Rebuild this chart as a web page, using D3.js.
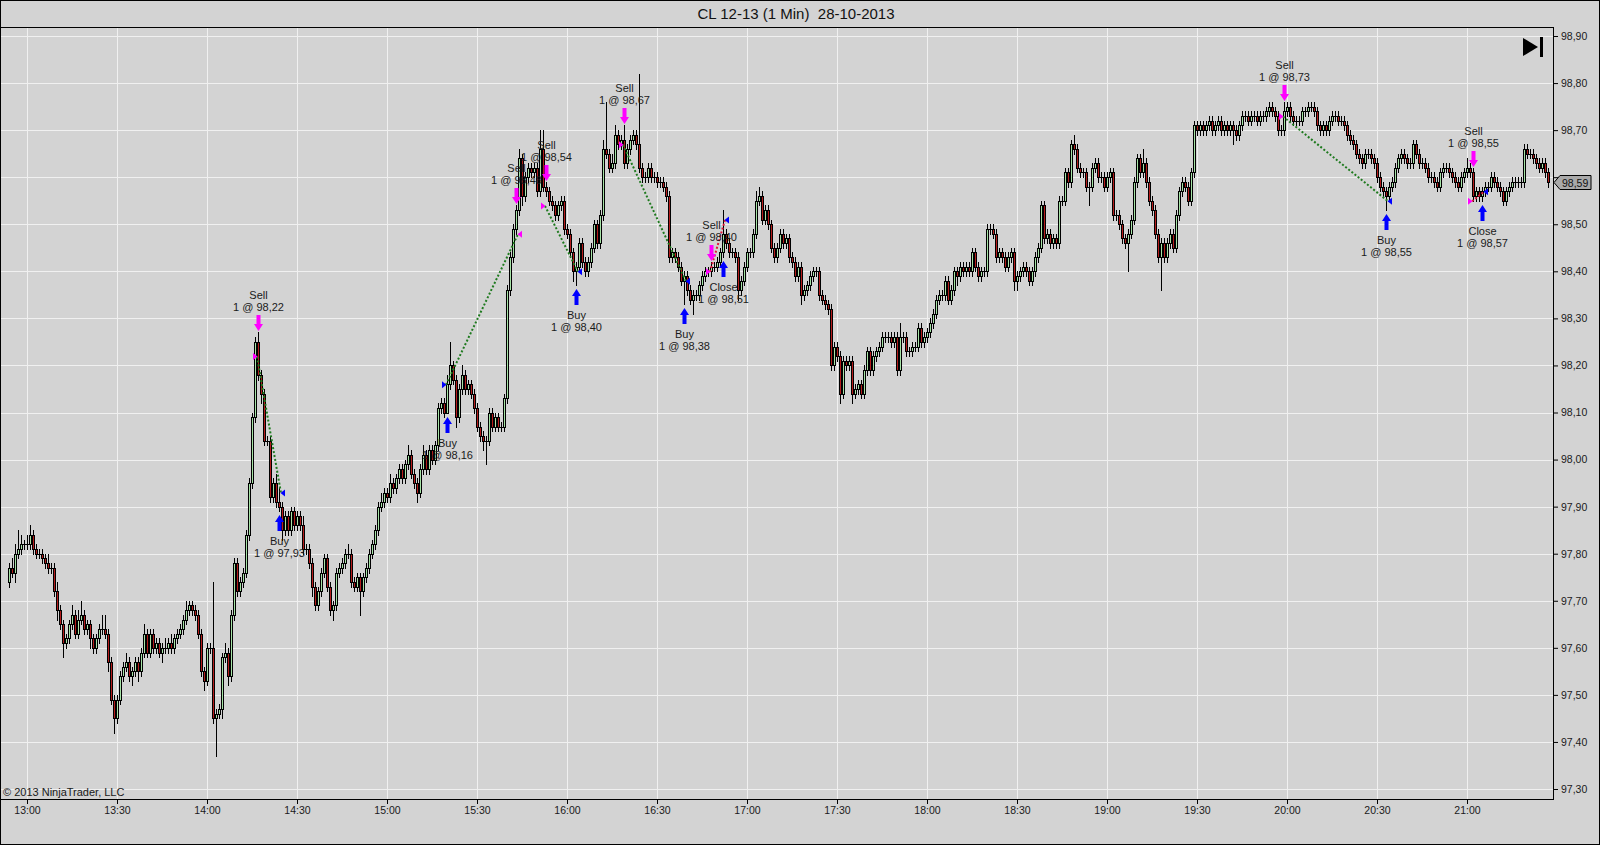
<!DOCTYPE html>
<html>
<head>
<meta charset="utf-8">
<script src="https://cdn.jsdelivr.net/npm/d3@7"></script>
<style>
  html, body { margin: 0; padding: 0; background: #d3d3d3; }
  svg { display: block; font-family: "Liberation Sans", Arial, sans-serif; }
</style>
</head>
<body>
<svg id="chart" width="1600" height="845"></svg>
<script>
// ========== Data ==========

const chartTitle = "CL 12-13 (1 Min)  28-10-2013";
const copyright = "\u00a9 2013 NinjaTrader, LLC";

// 1 minute bars from 12:54 to 21:27, prices in ticks (0.01) above 97.00
// each bar opens where the previous one closed
const firstBarTime = "12:54";
const basePrice = 97.00;
const firstOpen = 74;

const closes = [
  77,76,80,81,82,82,82,84,81,80,      // 12:54
  80,79,78,77,77,72,68,65,61,62,      // 13:04
  65,67,63,66,67,64,65,62,60,62,      // 13:14
  64,64,63,57,49,45,49,54,56,57,      // 13:24
  54,55,57,55,59,63,59,63,60,61,      // 13:34
  59,60,60,61,60,62,63,64,66,68,      // 13:44
  69,68,67,63,55,53,60,60,45,46,      // 13:54
  47,58,59,54,67,78,72,74,76,84,      // 14:04
  95,109,125,118,114,104,104,92,95,91,
  90,85,88,85,89,86,88,86,81,81,      // 14:24
  78,73,69,72,76,79,73,68,69,76,
  77,78,80,80,74,73,75,72,75,77,      // 14:44
  80,82,85,90,91,93,92,95,94,96,
  98,96,99,101,97,95,93,98,101,98,    // 15:04
  102,100,103,111,112,110,116,120,117,109,
  115,118,115,116,114,111,107,105,104,104,   // 15:24
  110,107,109,107,107,113,136,143,149,153,
  164,156,160,162,161,162,157,166,158,157,   // 15:44
  155,154,152,154,155,149,148,144,140,141,
  146,142,140,142,145,150,146,152,166,165,   // 16:04
  162,163,169,167,168,163,166,168,169,167,
  162,160,160,162,160,160,159,159,158,156,   // 16:24
  143,144,143,141,138,139,136,134,135,135,
  137,139,140,140,141,141,142,144,148,146,   // 16:44
  144,144,143,136,138,141,144,144,148,155,
  156,151,153,150,145,143,145,148,146,147,   // 17:04
  143,142,139,141,135,136,137,139,140,140,
  135,134,133,132,120,124,122,114,121,120,   // 17:24
  121,114,115,116,114,119,123,119,122,123,
  124,126,126,126,125,126,119,126,126,123,   // 17:44
  123,124,124,128,125,126,127,129,131,134,
  135,135,138,134,136,140,139,141,140,141,   // 18:04
  140,144,141,139,140,140,149,149,148,143,
  144,143,141,143,144,138,139,140,141,140,   // 18:24
  138,140,143,145,154,147,148,146,147,146,
  155,155,161,159,167,166,162,161,161,158,   // 18:44
  158,162,163,160,160,158,160,161,152,152,
  150,147,146,148,151,159,164,161,163,159,   // 19:04
  155,153,148,143,146,143,146,148,145,152,
  157,159,158,155,161,171,170,171,170,171,   // 19:24
  172,170,171,172,170,171,170,171,170,169,
  171,173,173,172,173,173,172,173,173,174,   // 19:44
  175,174,173,170,170,174,175,173,172,172,
  172,174,174,175,175,174,171,170,171,170,   // 20:04
  172,173,173,172,172,171,169,168,167,165,
  164,163,165,165,164,163,160,158,157,156,   // 20:24
  158,159,162,164,165,164,163,163,167,165,
  163,163,162,160,160,159,158,161,162,162,   // 20:44
  161,160,159,158,160,161,162,161,156,157,
  156,157,158,158,160,159,158,157,155,157,   // 21:04
  158,159,159,159,159,166,165,165,164,163,
  162,163,161,159
];

// wick lengths in ticks above the body top / below the body bottom
const upperWick = [
  1,2,2,4,2,1,2,2,1,1,  1,1,1,2,1,1,2,1,1,1,  1,2,1,2,3,1,1,1,1,1,  1,3,3,1,1,1,1,1,1,2,
  1,1,1,1,1,2,1,1,1,1,  1,1,2,1,2,1,1,1,1,2,  1,1,1,1,1,1,1,1,14,1, 1,1,2,1,1,1,1,1,1,1,
  1,1,1,2,1,1,1,1,1,2,  3,1,1,1,1,1,1,1,2,1,  1,1,1,1,1,1,1,1,1,1,  1,1,1,2,1,1,1,1,1,1,
  1,1,1,1,2,1,1,2,1,1,  1,1,1,2,1,1,1,1,2,1,  1,1,1,1,1,1,2,5,1,1,  1,2,1,1,1,1,1,1,1,1,
  1,1,1,1,1,1,1,1,1,1,  2,1,1,1,1,1,1,4,4,1,  1,1,1,1,1,1,1,1,1,1,  1,1,1,1,1,1,1,1,2,10,
  1,2,2,1,1,3,1,1,1,1,  15,1,1,1,1,1,1,1,1,1, 1,1,1,1,1,1,1,1,1,1,  1,1,1,1,1,1,1,1,5,1,
  1,1,1,1,1,1,1,1,1,2,  2,1,1,1,1,1,1,1,1,1,  1,1,1,1,1,1,1,1,1,1,  1,1,1,1,1,1,1,1,1,1,
  1,1,1,1,1,1,1,1,1,1,  1,1,1,1,1,1,1,3,1,1,  1,1,1,1,1,1,1,1,1,1,  1,1,1,1,1,1,1,1,1,1,
  1,1,1,1,1,1,1,1,1,1,  1,1,1,1,1,1,1,1,1,1,  1,1,1,1,1,1,1,1,1,1,  1,1,1,1,1,2,1,1,1,1,
  1,1,1,1,1,1,1,1,1,1,  1,1,1,1,1,1,1,1,3,1,  1,1,1,1,1,1,1,1,1,1,  1,1,1,1,1,1,1,1,1,1,
  1,1,1,1,1,1,1,1,1,1,  1,1,1,1,1,1,1,1,1,1,  1,1,1,1,1,2,1,1,1,1,  1,1,1,1,1,1,1,1,1,1,
  1,1,1,1,1,1,1,1,1,1,  1,1,1,1,1,1,1,1,1,1,  1,1,1,1,1,1,1,1,1,1,  1,1,1,1,1,1,1,1,1,1,
  1,1,1,1,1,1,2,1,1,1,  1,1,1,1,1,1,1,1,1,1,  1,1,1,1,1,1,1,1,1,1,  1,1,1,1
];
const lowerWick = [
  1,1,2,1,1,1,1,1,1,1,  1,1,1,1,1,1,2,1,3,1,  1,1,1,1,1,1,1,2,1,1,  1,1,1,2,1,3,1,1,1,1,
  1,2,1,2,1,1,1,1,1,1,  1,2,1,1,1,1,1,1,1,1,  1,1,1,1,1,2,1,1,1,8,  1,2,1,2,1,1,1,1,1,1,
  1,1,1,1,2,1,1,1,1,1,  1,2,1,1,1,1,1,1,1,1,  1,2,1,1,1,1,1,1,2,1,  1,1,1,1,1,1,1,5,1,1,
  1,1,1,1,1,1,1,1,1,1,  1,1,1,1,1,1,2,1,1,1,  1,1,1,1,1,1,0,1,1,2,  1,1,1,1,1,1,1,1,2,5,
  1,1,1,1,1,1,1,1,1,1,  1,2,1,1,1,1,1,1,1,1,  1,1,1,1,1,1,1,1,2,3,  1,1,1,1,1,1,1,1,1,1,
  1,1,1,1,1,1,1,1,1,1,  1,1,1,1,1,1,1,1,1,1,  1,1,1,1,1,5,1,1,3,1,  1,1,1,1,1,1,1,1,1,1,
  1,1,1,2,1,1,1,1,1,1,  1,1,1,1,1,1,1,1,1,1,  1,1,1,1,2,1,1,1,1,1,  1,1,1,1,1,1,1,2,1,1,
  1,2,1,1,1,1,1,1,1,1,  1,1,1,1,1,1,1,1,1,1,  1,1,1,1,1,1,1,1,1,1,  1,1,1,1,1,1,2,1,1,1,
  1,1,1,1,1,1,1,1,1,1,  1,1,1,1,1,2,2,1,1,1,  1,1,1,1,1,1,1,1,1,1,  1,1,1,1,1,1,1,1,1,1,
  4,1,1,1,1,1,1,1,1,1,  1,1,1,6,1,1,1,1,1,1,  1,1,1,1,7,1,1,1,1,1,  1,1,1,1,1,1,1,1,1,1,
  1,1,1,1,1,1,1,1,3,1,  1,1,1,1,1,1,1,1,1,1,  1,1,1,1,1,1,1,1,1,1,  1,1,1,1,1,1,1,1,1,1,
  1,1,1,1,1,1,1,1,1,1,  1,1,1,1,1,1,1,1,1,3,  1,1,1,1,1,1,1,1,1,1,  1,1,1,1,1,1,1,1,1,1,
  1,1,1,1,1,1,1,1,1,1,  1,1,1,1,1,1,1,1,1,1,  1,1,1,1,1,1,1,1,1,1,  1,1,1,1
];

const priceTicks = [97.30, 97.40, 97.50, 97.60, 97.70, 97.80, 97.90, 98.00,
                    98.10, 98.20, 98.30, 98.40, 98.50, 98.60, 98.70, 98.80, 98.90];
const timeTicks = ["13:00", "13:30", "14:00", "14:30", "15:00", "15:30", "16:00", "16:30", "17:00",
                   "17:30", "18:00", "18:30", "19:00", "19:30", "20:00", "20:30", "21:00"];
const lastPrice = 98.59;

// executed trades
const entryTimes   = ["14:17", "15:20", "15:53", "16:19", "16:48", "19:59", "21:02"];
const entryActions = ["Sell", "Buy", "Sell", "Sell", "Sell", "Sell", "Sell"];
const entryPrices  = [98.22, 98.16, 98.54, 98.67, 98.40, 98.73, 98.55];
const exitTimes    = ["14:24", "15:43", "16:03", "16:39", "16:52", "20:33", "21:05"];
const exitActions  = ["Buy", "Sell", "Buy", "Buy", "Close", "Buy", "Close"];
const exitPrices   = [97.93, 98.48, 98.40, 98.38, 98.51, 98.55, 98.57];

// ========== Setup ==========

const svg = d3.select("#chart");
const plotRight = 1553, plotTop = 27, plotBottom = 799;
const upColor = "#a6e3a6", downColor = "#b51c1c";
const sellColor = "#ff00ff", buyColor = "#0000ff";

const parseTime = d3.timeParse("%H:%M");
const x = d3.scaleTime()
    .domain([parseTime("13:00"), parseTime("21:00")])
    .range([27, 1467]);
const y = d3.scaleLinear()
    .domain([97.30, 98.90])
    .range([789, 36]);

const fmtPrice = p => d3.format(".2f")(p).replace(".", ",");
const tickY = t => y(basePrice + t / 100);

const start = parseTime(firstBarTime);
const bars = closes.map((c, i) => {
    const open = i === 0 ? firstOpen : closes[i - 1];
    const top = Math.max(open, c), bot = Math.min(open, c);
    return {
        time: d3.timeMinute.offset(start, i),
        open: open, close: c, top: top, bot: bot,
        high: top + upperWick[i],
        low: bot - lowerWick[i]
    };
});
const barX = d => Math.round(x(d.time));
const barAt = t => bars[Math.round((parseTime(t) - start) / 60000)];

// ========== Background & Grid ==========

svg.append("rect").attr("width", 1600).attr("height", 845).attr("fill", "#d3d3d3");

const grid = svg.append("g").attr("shape-rendering", "crispEdges").attr("stroke", "#f0f0f0");
grid.selectAll(".vgrid")
    .data(timeTicks)
    .join("line")
    .attr("class", "vgrid")
    .attr("x1", d => Math.round(x(parseTime(d))) + 0.5)
    .attr("x2", d => Math.round(x(parseTime(d))) + 0.5)
    .attr("y1", plotTop)
    .attr("y2", plotBottom);
grid.selectAll(".hgrid")
    .data(priceTicks)
    .join("line")
    .attr("class", "hgrid")
    .attr("x1", 0)
    .attr("x2", plotRight)
    .attr("y1", d => Math.round(y(d)) + 0.5)
    .attr("y2", d => Math.round(y(d)) + 0.5);

svg.append("text")
    .attr("x", 3)
    .attr("y", 796)
    .attr("font-size", 11)
    .attr("fill", "#1a1a1a")
    .text(copyright);

// ========== Candles ==========

const candles = svg.append("g").attr("shape-rendering", "crispEdges");

candles.selectAll(".wick")
    .data(bars)
    .join("line")
    .attr("class", "wick")
    .attr("x1", d => barX(d) + 0.5)
    .attr("x2", d => barX(d) + 0.5)
    .attr("y1", d => Math.round(tickY(d.high)))
    .attr("y2", d => Math.round(tickY(d.low)) + 1)
    .attr("stroke", "#000");

const bodyTop = d => Math.round(tickY(d.top));
const bodyH = d => Math.max(1, Math.round(tickY(d.bot)) - bodyTop(d) + 1);

candles.selectAll(".body")
    .data(bars)
    .join("rect")
    .attr("class", "body")
    .attr("x", d => barX(d) - 1)
    .attr("y", bodyTop)
    .attr("width", 3)
    .attr("height", bodyH)
    .attr("fill", "#000");

candles.selectAll(".inner")
    .data(bars.filter(d => bodyH(d) > 2))
    .join("rect")
    .attr("class", "inner")
    .attr("x", d => barX(d))
    .attr("y", d => bodyTop(d) + 1)
    .attr("width", 1)
    .attr("height", d => bodyH(d) - 2)
    .attr("fill", d => d.close >= d.open ? upColor : downColor);

// ========== Trades ==========

const trades = entryTimes.map((t, i) => {
    const profit = entryActions[i] === "Buy" ? exitPrices[i] - entryPrices[i] : entryPrices[i] - exitPrices[i];
    return {
        entryBar: barAt(t), entryAction: entryActions[i], entryPrice: entryPrices[i],
        exitBar: barAt(exitTimes[i]), exitAction: exitActions[i], exitPrice: exitPrices[i],
        win: profit > 0
    };
});

const tradeLayer = svg.append("g");

tradeLayer.selectAll(".tradeLine")
    .data(trades)
    .join("line")
    .attr("class", "tradeLine")
    .attr("x1", d => barX(d.entryBar) - 1)
    .attr("y1", d => y(d.entryPrice) + 0.5)
    .attr("x2", d => barX(d.exitBar) + 2)
    .attr("y2", d => y(d.exitPrice) + 0.5)
    .attr("stroke", d => d.win ? "#1f7a1f" : "#e0183c")
    .attr("stroke-width", 2)
    .attr("stroke-dasharray", "2,2");

const markColor = a => a === "Sell" ? sellColor : buyColor;

// entry triangles point right, exit triangles point left
tradeLayer.selectAll(".entryTri")
    .data(trades)
    .join("path")
    .attr("class", "entryTri")
    .attr("d", d => {
        const cx = barX(d.entryBar), cy = y(d.entryPrice) + 0.5;
        return `M${cx - 5},${cy - 3.5}L${cx - 0.5},${cy}L${cx - 5},${cy + 3.5}Z`;
    })
    .attr("fill", d => markColor(d.entryAction));

tradeLayer.selectAll(".exitTri")
    .data(trades)
    .join("path")
    .attr("class", "exitTri")
    .attr("d", d => {
        const cx = barX(d.exitBar), cy = y(d.exitPrice) + 0.5;
        return `M${cx + 6},${cy - 3.5}L${cx + 1.5},${cy}L${cx + 6},${cy + 3.5}Z`;
    })
    .attr("fill", d => markColor(d.exitAction));

// execution arrows with their labels
const executions = [];
trades.forEach(d => {
    executions.push({ bar: d.entryBar, action: d.entryAction, price: d.entryPrice });
    executions.push({ bar: d.exitBar, action: d.exitAction, price: d.exitPrice });
});

function arrowPath(cx, tip, down) {
    const s = down ? -1 : 1;
    const len = 16, head = 7, hw = 4.5, sw = 2;
    return `M${cx},${tip}L${cx + hw},${tip + s * head}L${cx + sw},${tip + s * head}` +
        `L${cx + sw},${tip + s * len}L${cx - sw},${tip + s * len}L${cx - sw},${tip + s * head}` +
        `L${cx - hw},${tip + s * head}Z`;
}

executions.forEach(e => {
    const cx = barX(e.bar) + 0.5;
    const g = tradeLayer.append("g");
    if (e.action === "Sell") {
        const tip = Math.round(tickY(e.bar.high)) - 1;
        g.append("path").attr("d", arrowPath(cx, tip, true)).attr("fill", sellColor);
        g.append("text").attr("x", cx).attr("y", tip - 20).text(`1 @ ${fmtPrice(e.price)}`);
        g.append("text").attr("x", cx).attr("y", tip - 32).text(e.action);
    } else {
        const tip = Math.round(tickY(e.bar.low)) + 4;
        g.append("path").attr("d", arrowPath(cx, tip, false)).attr("fill", buyColor);
        g.append("text").attr("x", cx).attr("y", tip + 30).text(e.action);
        g.append("text").attr("x", cx).attr("y", tip + 42).text(`1 @ ${fmtPrice(e.price)}`);
    }
    g.selectAll("text")
        .attr("text-anchor", "middle")
        .attr("font-size", 11)
        .attr("fill", "#1a1a1a");
});

// ========== Axes & Frame ==========

// the label under the last price marker is covered, as on the reference
const yAxis = d3.axisRight(y)
    .tickValues(priceTicks)
    .tickSize(5)
    .tickPadding(3)
    .offset(0.5)
    .tickFormat(p => Math.abs(p - lastPrice) < 0.05 ? "" : fmtPrice(p));

svg.append("g")
    .attr("transform", `translate(${plotRight},0)`)
    .call(yAxis)
    .call(g => g.select(".domain").remove())
    .call(g => g.selectAll("text").attr("fill", "#1a1a1a"))
    .attr("font-size", 10.5)
    .attr("font-family", "Liberation Sans, Arial, sans-serif");

const xAxis = d3.axisBottom(x)
    .tickValues(timeTicks.map(parseTime))
    .tickSize(5)
    .tickPadding(3)
    .offset(0.5)
    .tickFormat(d3.timeFormat("%H:%M"));

svg.append("g")
    .attr("transform", `translate(0,${plotBottom})`)
    .call(xAxis)
    .call(g => g.select(".domain").remove())
    .call(g => g.selectAll("text").attr("fill", "#1a1a1a"))
    .attr("font-size", 10.5)
    .attr("font-family", "Liberation Sans, Arial, sans-serif");

const frame = svg.append("g").attr("shape-rendering", "crispEdges").attr("stroke", "#000");
frame.append("line").attr("x1", 0).attr("x2", plotRight + 1).attr("y1", plotTop + 0.5).attr("y2", plotTop + 0.5);
frame.append("line").attr("x1", 0).attr("x2", plotRight + 1).attr("y1", plotBottom + 0.5).attr("y2", plotBottom + 0.5);
frame.append("line").attr("x1", plotRight + 0.5).attr("x2", plotRight + 0.5).attr("y1", plotTop).attr("y2", plotBottom + 1);
frame.append("rect").attr("x", 0.5).attr("y", 0.5).attr("width", 1599).attr("height", 844).attr("fill", "none");

// last price marker on the price axis
const ly = Math.round(y(lastPrice)) + 0.5;
svg.append("path")
    .attr("d", `M${plotRight + 1},${ly}L${plotRight + 7},${ly - 7}L${plotRight + 38},${ly - 7}` +
        `L${plotRight + 38},${ly + 7}L${plotRight + 7},${ly + 7}Z`)
    .attr("fill", "#a9a9a9")
    .attr("stroke", "#000")
    .attr("stroke-width", 1);
svg.append("text")
    .attr("x", plotRight + 9)
    .attr("y", ly + 4)
    .attr("font-size", 10.5)
    .attr("fill", "#111")
    .text(fmtPrice(lastPrice));

// "go to last bar" button
svg.append("path").attr("d", "M1523,38L1538,47L1523,56Z").attr("fill", "#000");
svg.append("rect").attr("x", 1540).attr("y", 37).attr("width", 3).attr("height", 20).attr("fill", "#000");

// title
svg.append("text")
    .attr("x", 796)
    .attr("y", 19)
    .attr("text-anchor", "middle")
    .attr("font-size", 15)
    .attr("fill", "#111")
    .style("white-space", "pre")
    .text(chartTitle);
</script>
</body>
</html>
